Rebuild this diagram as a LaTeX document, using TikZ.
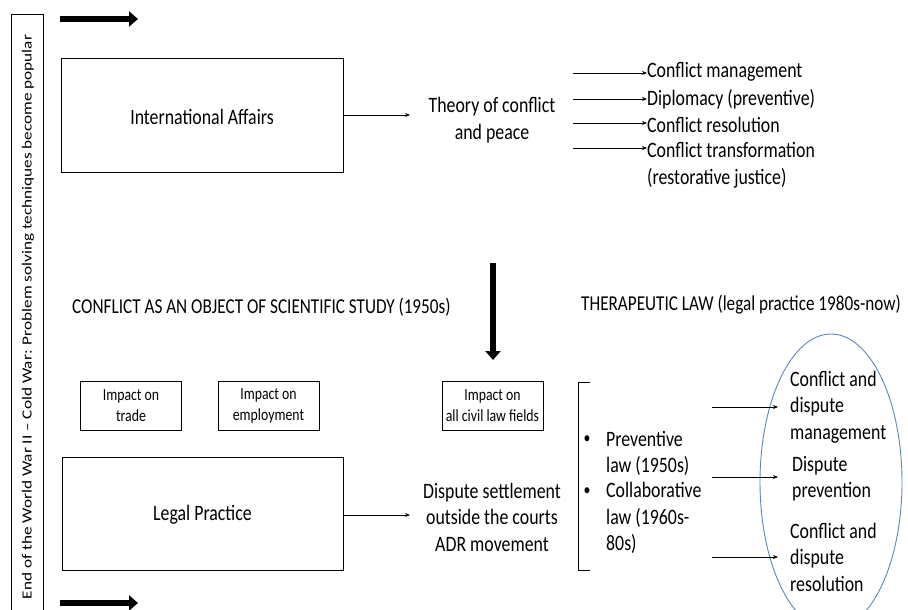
\documentclass[tikz,border=0pt]{standalone}
\usepackage{fontspec}
\usepackage{graphicx}
\setmainfont{Carlito}[FakeStretch=0.81]
\newfontfamily\bandfont{Carlito}
\usetikzlibrary{arrows.meta,shapes.geometric}
\definecolor{ellblue}{HTML}{5B87B8}
\begin{document}
\begin{tikzpicture}[x=1pt,y=-1pt,
 box/.style={draw,line width=0.8pt,inner sep=0pt},
 txt/.style={font=\fontsize{22}{26.5}\selectfont, inner sep=0pt},
 ttl/.style={font=\fontsize{21.2}{26}\selectfont, inner sep=0pt, anchor=west},
 lbl/.style={txt,anchor=west,align=left},
 small/.style={draw,line width=0.8pt,font=\fontsize{17}{21}\selectfont, align=center,minimum width=101pt,minimum height=49pt,inner sep=0pt},
 thinarr/.style={-{Stealth[length=5pt,width=4pt]}, line width=0.8pt},
 thickarr/.style={line width=6.5pt, -{Triangle[length=9pt,width=15pt]}}
]
\useasboundingbox (0,0) rectangle (908,610);
% left vertical band
\node[draw,line width=0.8pt,minimum width=32pt,minimum height=606pt,inner sep=0pt] (band) at (27,317) {};
\node[rotate=90,inner sep=0pt] (bandtxt) at (28,317) {\scalebox{1}[0.81]{\bandfont\fontsize{17.2}{20}\selectfont End of the World War II – Cold War: Problem solving techniques become popular}};
% thick arrows
\coordinate (ta1) at (60,19); \coordinate (ta2) at (138,19);
\draw[thickarr] (ta1) -- (ta2);
\coordinate (ba1) at (60,603); \coordinate (ba2) at (138,603);
\draw[thickarr] (ba1) -- (ba2);
% top part
\node[box,minimum width=282pt,minimum height=114pt] (ia) at (202,115) {};
\node[txt] (iat) at (202,117) {International Affairs};
\node[txt,align=center] (theory) at (492,120) {Theory of conflict\\and peace};
\draw[thinarr] (ia.east |- 0,115) -- (410,115) coordinate (theoryin);
\node[lbl] (t1) at (647,72) {Conflict management};
\node[lbl] (t2) at (647,99) {Diplomacy (preventive)};
\node[lbl] (t3) at (647,125) {Conflict resolution};
\node[lbl] (t4) at (647,165.5) {Conflict transformation\\(restorative justice)};
\coordinate (s1) at (573,73); \coordinate (s2) at (573,99); \coordinate (s3) at (573,123); \coordinate (s4) at (573,148);
\draw[thinarr] (s1) -- (s1 -| t1.west);
\draw[thinarr] (s2) -- (s2 -| t2.west);
\draw[thinarr] (s3) -- (s3 -| t3.west);
\draw[thinarr] (s4) -- (s4 -| t4.west);
% down arrow
\coordinate (da1) at (493,263); \coordinate (da2) at (493,360);
\draw[thickarr] (da1) -- (da2);
% titles
\node[ttl] (title1) at (72,307) {CONFLICT AS AN OBJECT OF SCIENTIFIC STUDY (1950s)};
\node[ttl] (title2) at (581,305) {THERAPEUTIC LAW (legal practice 1980s-now)};
% impact boxes
\node[small] (imp1) at (131,405.5) {Impact on\\trade};
\node[small] (imp2) at (268.5,405.5) {Impact on\\employment};
\node[small] (imp3) at (492.5,405.5) {Impact on\\all civil law fields};
% legal practice
\node[box,minimum width=281pt,minimum height=113pt] (lp) at (202.5,513.5) {};
\node[txt] (lpt) at (202.5,515) {Legal Practice};
\node[txt,align=center] (ds) at (492,517) {Dispute settlement\\outside the courts\\ADR movement};
\draw[thinarr] (lp.east |- 0,515) -- (410,515) coordinate (dsin);
% bracket
\coordinate (br1) at (590,382); \coordinate (br2) at (578,382);
\coordinate (br3) at (578,570); \coordinate (br4) at (590,570);
\draw[line width=0.8pt] (br1) -- (br2) -- (br3) -- (br4);
\node[inner sep=0pt,font=\fontsize{17}{20}\selectfont] (b1) at (587,440) {\textbullet};
\node[inner sep=0pt,font=\fontsize{17}{20}\selectfont] (b2) at (587,492) {\textbullet};
\node[lbl] (law1) at (606,453.5) {Preventive\\law (1950s)};
\node[lbl] (law2) at (606,518) {Collaborative\\law (1960s-\\80s)};
% ellipse
\node[draw=ellblue,ellipse,line width=0.9pt,minimum width=142pt,minimum height=296pt,inner sep=0pt] (ell) at (831,482) {};
\node[lbl] (e1) at (790,407) {Conflict and\\dispute\\management};
\node[lbl] (e2) at (792,478.5) {Dispute\\prevention};
\node[lbl] (e3) at (790,557) {Conflict and\\dispute\\resolution};
\coordinate (a1) at (712,407); \coordinate (a2) at (712,477); \coordinate (a3) at (712,557);
\draw[thinarr] (a1) -- (778,407) coordinate (a1e);
\draw[thinarr] (a2) -- (778,477) coordinate (a2e);
\draw[thinarr] (a3) -- (778,557) coordinate (a3e);
\end{tikzpicture}
\end{document}
